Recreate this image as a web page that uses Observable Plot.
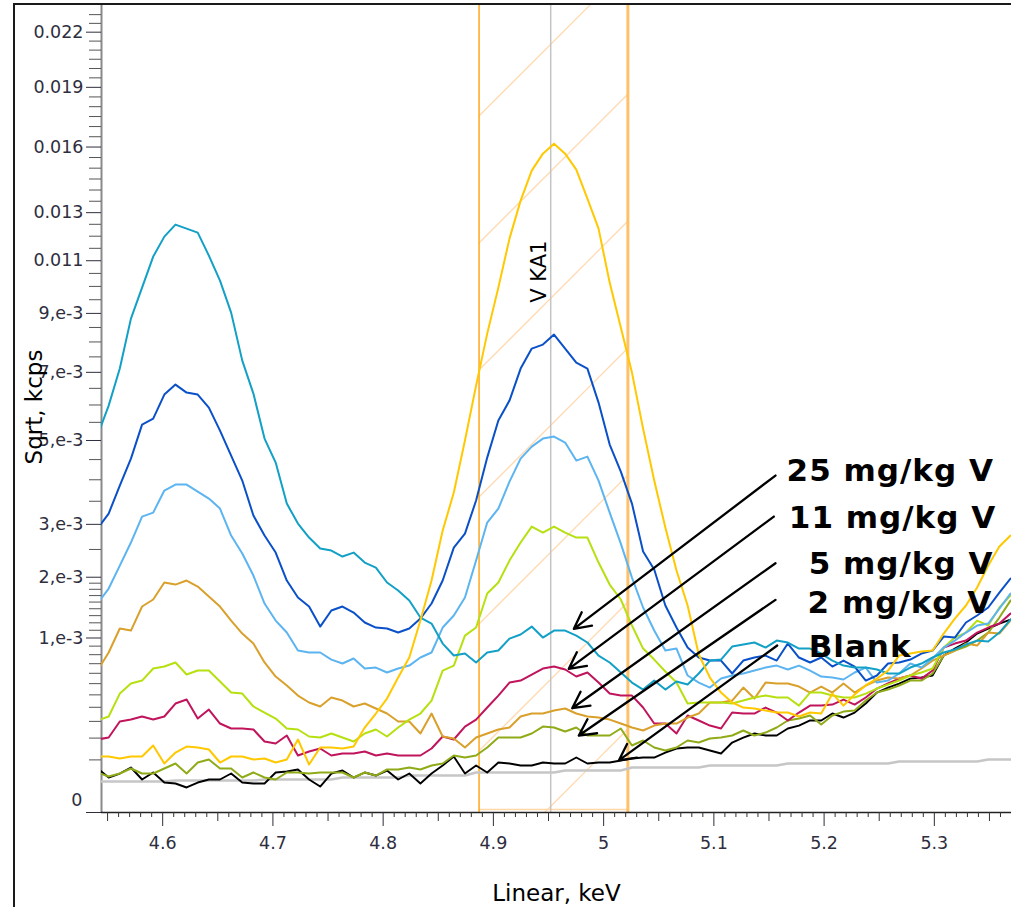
<!DOCTYPE html>
<html>
<head>
<meta charset="utf-8">
<script src="https://cdn.jsdelivr.net/npm/d3@7"></script>
<script src="https://cdn.jsdelivr.net/npm/@observablehq/plot@0.6"></script>
<style>
  html, body { margin: 0; padding: 0; background: #fff; }
  #wrap { position: relative; width: 1011px; height: 907px; overflow: hidden; background: #fff; }
  #chart svg { display: block; }
  #frame { position: absolute; left: 13px; top: 3px; width: 1100px; height: 1000px;
           border-left: 2px solid #1a1a1a; border-top: 2px solid #1a1a1a; pointer-events: none; }
  .annot text { letter-spacing: 1px; }
</style>
</head>
<body>
<div id="wrap"><div id="chart"></div><div id="frame"></div></div>
<script>
// ---------- Channel energies (keV): first channel sits just left of the axis ----------
const channelStart = 4.5409;
const channelStep = 0.0101;
const channelCount = 83;

// ---------- Spectra, values in cps (= 1e-3 kcps), one value per channel ----------
const blank = [0.0699,
  0.0442,0.0549,0.0731,0.0393,0.0578,0.0325,0.0304,0.0226,0.0325,0.0393,
  0.0393,0.0549,0.0325,0.0304,0.0304,0.0578,0.0607,0.0668,0.0393,0.0244,
  0.0549,0.0637,0.0442,0.0578,0.0494,0.0637,0.0393,0.0549,0.0304,0.0549,
  0.0798,0.1133,0.0549,0.0798,0.0578,0.0903,0.0867,0.0798,0.0798,0.0903,
  0.0867,0.0867,0.1092,0.0867,0.0903,0.0903,0.0977,0.1053,0.1092,0.1092,
  0.130,0.1479,0.1526,0.1526,0.1388,0.1257,0.177,0.2031,0.2254,0.2141,
  0.2141,0.255,0.273,0.306,0.306,0.354,0.326,0.361,0.429,0.520,
  0.564,0.601,0.648,0.658,0.678,0.890,0.971,1.044,1.157,1.223,
  1.290,1.345];
const v2 = [0.0578,
  0.0468,0.0549,0.0699,0.0549,0.0549,0.0699,0.0867,0.0549,0.0903,0.1014,
  0.0699,0.0699,0.0442,0.0578,0.0442,0.0393,0.0578,0.0578,0.0549,0.0578,
  0.0578,0.0578,0.0442,0.0578,0.0494,0.0668,0.0668,0.0731,0.0668,0.0798,
  0.0867,0.1173,0.1092,0.1173,0.1526,0.2031,0.2031,0.2031,0.2254,0.267,
  0.261,0.2370,0.261,0.2141,0.2141,0.2141,0.255,0.1621,0.1872,0.1526,
  0.1388,0.1526,0.1872,0.177,0.1978,0.2031,0.2141,0.2428,0.2141,0.231,
  0.261,0.306,0.319,0.340,0.280,0.340,0.368,0.376,0.453,0.520,
  0.546,0.583,0.629,0.629,0.698,0.890,0.948,0.995,1.068,1.170,
  1.373,1.623];
const v5 = [0.728,
  0.925,1.223,1.196,1.533,1.639,1.911,1.877,1.944,1.845,1.685,
  1.533,1.331,1.157,1.031,0.813,0.668,0.583,0.494,0.437,0.406,
  0.478,0.453,0.406,0.429,0.391,0.354,0.299,0.299,0.2254,0.354,
  0.2086,0.1978,0.1526,0.2031,0.2254,0.2488,0.261,0.333,0.354,0.354,
  0.376,0.391,0.354,0.333,0.326,0.312,0.286,0.261,0.243,0.273,
  0.286,0.286,0.326,0.354,0.437,0.437,0.453,0.564,0.469,0.610,
  0.601,0.601,0.573,0.520,0.573,0.520,0.601,0.520,0.583,0.629,
  0.658,0.648,0.678,0.749,0.834,0.890,0.948,1.031,1.007,1.170,
  1.157,1.331];
const v11 = [0.1925,
  0.2031,0.299,0.312,0.333,0.312,0.333,0.429,0.461,0.319,0.383,
  0.286,0.255,0.255,0.2488,0.1821,0.1719,0.2141,0.1173,0.1344,0.1479,
  0.1173,0.1257,0.1257,0.1344,0.1173,0.1257,0.1173,0.1173,0.1173,0.1479,
  0.2086,0.1925,0.267,0.312,0.398,0.494,0.610,0.629,0.688,0.749,
  0.770,0.739,0.668,0.708,0.610,0.511,0.494,0.494,0.398,0.286,
  0.286,0.2254,0.340,0.306,0.273,0.255,0.361,0.354,0.354,0.398,
  0.361,0.306,0.361,0.413,0.413,0.421,0.461,0.421,0.478,0.555,
  0.601,0.648,0.678,0.648,0.728,0.983,1.031,1.068,1.170,1.236,
  1.290,1.430];
const v25 = [5.133,
  5.982,7.120,8.813,9.954,11.165,11.982,12.487,12.317,12.149,11.205,
  10.222,9.029,7.378,6.340,5.052,4.424,3.448,3.016,2.731,2.517,
  2.479,2.367,2.441,2.257,2.168,1.911,1.780,1.623,1.373,1.290,
  1.031,0.890,0.913,0.813,0.925,0.948,1.093,1.144,1.249,1.106,
  1.196,1.196,1.131,1.044,0.890,0.813,0.708,0.610,0.546,0.629,
  0.546,0.620,0.592,0.698,0.834,0.845,0.995,1.019,1.044,0.983,
  1.068,1.044,0.971,0.971,0.913,0.834,0.780,0.759,0.759,0.739,
  0.698,0.698,0.759,0.802,0.868,0.925,0.960,1.019,1.068,1.056,
  1.170,1.345];
const sampleDarkBlue = [2.913,
  3.229,3.862,4.526,5.437,5.606,6.310,6.616,6.371,6.310,5.924,
  5.270,4.603,3.981,3.186,2.771,2.441,1.944,1.669,1.533,1.249,
  1.474,1.533,1.445,1.304,1.236,1.223,1.170,1.223,1.359,1.578,
  1.944,2.536,2.811,3.516,4.551,5.550,6.130,7.120,7.776,7.910,
  8.252,7.776,7.313,7.120,6.071,4.891,4.200,3.448,2.460,2.133,
  1.548,1.236,0.983,0.868,0.834,0.834,0.698,0.834,0.868,0.890,
  0.834,1.031,0.868,0.813,0.868,0.770,0.834,0.770,0.629,0.678,
  0.802,0.813,0.845,0.913,0.948,1.119,1.106,1.304,1.402,1.518,
  1.748,1.978];
const sampleLightBlue = [1.578,
  1.812,2.203,2.633,3.164,3.250,3.745,3.885,3.885,3.721,3.561,
  3.338,2.771,2.423,2.029,1.578,1.331,1.170,0.948,0.925,0.925,
  0.845,0.802,0.857,0.749,0.759,0.708,0.749,0.780,0.868,0.925,
  1.236,1.402,1.669,2.293,3.037,3.338,3.957,4.526,4.838,5.052,
  5.106,4.944,4.475,4.577,3.981,3.250,2.613,1.994,1.518,1.196,
  0.948,0.971,0.678,0.610,0.564,0.648,0.678,0.698,0.728,0.759,
  0.780,0.739,0.780,0.728,0.668,0.658,0.639,0.708,0.759,0.610,
  0.629,0.698,0.802,0.759,0.857,0.983,1.068,1.170,1.263,1.290,
  1.503,1.732];
const sampleGold = [0.1133,
  0.1133,0.1053,0.1133,0.1133,0.1621,0.0867,0.130,0.1573,0.1526,0.1433,
  0.0903,0.1133,0.1133,0.1014,0.1053,0.0903,0.1014,0.1925,0.0832,0.1526,
  0.1526,0.1479,0.1573,0.261,0.354,0.469,0.658,0.868,1.331,1.944,
  2.872,3.698,4.998,6.585,8.286,9.954,11.899,13.527,14.886,15.684,
  16.164,15.684,14.932,13.615,12.317,10.145,8.495,6.992,5.325,3.981,
  2.933,2.115,1.548,0.902,0.658,0.520,0.437,0.398,0.391,0.376,
  0.361,0.361,0.333,0.361,0.354,0.511,0.413,0.503,0.583,0.648,
  0.728,0.890,0.913,0.936,0.948,1.157,1.359,1.548,1.828,2.203,
  2.555,2.771];
const sampleLime = [0.306,
  0.333,0.511,0.601,0.629,0.749,0.770,0.813,0.688,0.728,0.728,
  0.620,0.520,0.511,0.406,0.361,0.319,0.255,0.2488,0.2086,0.2031,
  0.2254,0.2031,0.1821,0.2254,0.2488,0.2086,0.261,0.312,0.354,0.453,
  0.728,0.780,1.131,1.236,1.732,1.911,2.293,2.633,2.954,2.831,
  2.954,2.831,2.731,2.731,2.257,1.877,1.639,1.263,0.971,0.845,
  0.718,0.610,0.429,0.437,0.437,0.437,0.429,0.453,0.478,0.494,
  0.478,0.478,0.413,0.520,0.520,0.494,0.478,0.478,0.511,0.555,
  0.592,0.629,0.678,0.708,0.749,0.983,1.106,1.170,1.331,1.263,
  1.518,1.701];
const background = [0.0347,
  0.0347,0.0347,0.0347,0.0347,0.0347,0.0347,0.0370,0.0370,0.0370,0.0370,
  0.0370,0.0370,0.0370,0.0370,0.0393,0.0393,0.0393,0.0393,0.0393,0.0393,
  0.0393,0.0442,0.0442,0.0442,0.0442,0.0442,0.0442,0.0494,0.0494,0.0494,
  0.0494,0.0494,0.0494,0.0578,0.0578,0.0578,0.0578,0.0578,0.0578,0.0578,
  0.0578,0.0637,0.0637,0.0637,0.0637,0.0637,0.0637,0.0731,0.0731,0.0731,
  0.0731,0.0731,0.0731,0.0731,0.0798,0.0798,0.0798,0.0798,0.0798,0.0798,
  0.0798,0.0867,0.0867,0.0867,0.0867,0.0867,0.0867,0.0867,0.0867,0.0867,
  0.0867,0.0939,0.0939,0.0939,0.0939,0.0939,0.0939,0.0939,0.0939,0.1014,
  0.1014,0.1014];

// ---------- Series styling (drawing order) ----------
const seriesList = [
  {name: "Background", values: background, color: "#c6c6c6", width: 2.6},
  {name: "Blank", values: blank, color: "#000000", width: 1.9},
  {name: "2 mg/kg V", values: v2, color: "#8fab18", width: 2},
  {name: "11 mg/kg V", values: v11, color: "#c0145c", width: 2},
  {name: "5 mg/kg V", values: v5, color: "#d9a02c", width: 2},
  {name: "Sample lime", values: sampleLime, color: "#b6e010", width: 2},
  {name: "Sample light blue", values: sampleLightBlue, color: "#5cb4f0", width: 2},
  {name: "Sample dark blue", values: sampleDarkBlue, color: "#0a50c8", width: 2},
  {name: "25 mg/kg V", values: v25, color: "#12a0c6", width: 2},
  {name: "Sample gold", values: sampleGold, color: "#ffc800", width: 2}
];

// ---------- Element line / region of interest ----------
const lineName = "V KA1";
const lineEnergy = 4.952;
const roiStart = 4.887, roiEnd = 5.022;
const lineLabelValue = 10.57; // cps, vertical position of the label

// ---------- Axis ticks ----------
const xMajor = [4.6, 4.7, 4.8, 4.9, 5.0, 5.1, 5.2, 5.3];
const xMajorLabels = ["4.6", "4.7", "4.8", "4.9", "5", "5.1", "5.2", "5.3"];
const yMajor = [0, 1.1, 2, 3, 5, 7, 9, 11, 13, 16, 19, 22]; // cps
const yMajorLabels = ["", "1,e-3", "2,e-3", "3,e-3", "5,e-3", "7,e-3", "9,e-3", "0.011", "0.013", "0.016", "0.019", "0.022"];
const yZeroLabel = "0";
const yMinor = [0.1,0.2,0.3,0.4,0.5,0.6,0.7,0.8,0.9,1.0,1.2,1.3,1.4,1.5,1.6,1.7,1.8,1.9,
  2.5,3.5,4,4.5,5.5,6,6.5,7.5,8,8.5,9.5,10,10.5,11.5,12,12.5,13.5,14,14.5,15,15.5,
  16.5,17,17.5,18,18.5,19.5,20,20.5,21,21.5,22.5,23];

// ---------- Annotations ----------
const annotLabels = ["25 mg/kg V", "11 mg/kg V", "5 mg/kg V", "2 mg/kg V", "Blank"];
const annotKeV = [5.166, 5.168, 5.186, 5.185, 5.186];
const annotValue = [3.981, 2.933, 2.063, 1.445, 0.879];
const arrowFromKeV = [5.1559, 5.1544, 5.1559, 5.1559, 5.1575];
const arrowFromValue = [4.102, 3.164, 2.245, 1.634, 1.007];
const arrowToKeV = [4.9730, 4.9684, 4.9715, 4.9775, 5.0138];
const arrowToValue = [1.219, 0.746, 0.393, 0.214, 0.098];

const xTitle = "Linear, keV";
const yTitle = "Sqrt, kcps";

// ---------- Build ----------
const energies = d3.range(channelCount).map(i => +(channelStart + i * channelStep).toFixed(4));
const X0 = 4.5445, X1 = 5.370, Y1 = 23.53;
const xMid = d3.range(0, 17).map(k => +(4.55 + k * 0.1).toFixed(2)).filter(v => v <= X1);
const xMinor = d3.range(0, 83).map(k => +(4.55 + k * 0.01).toFixed(2))
  .filter(v => v <= X1 && Math.abs(Math.round(v * 20) - v * 20) > 1e-6);
const xLabelMap = new Map(xMajor.map((v, i) => [v, xMajorLabels[i]]));
const yLabelMap = new Map(yMajor.map((v, i) => [v, yMajorLabels[i]]));
const tickColor = "#2e2e3e";

const marks = [
  Plot.rect([{s: roiStart, e: roiEnd}], {x1: "s", x2: "e", y1: () => 0, y2: () => Y1, fill: "url(#roiHatch)"}),
  Plot.ruleY([0], {x1: roiStart, x2: roiEnd, dy: -3, stroke: "#ffd6a6", strokeWidth: 1.5}),
  Plot.ruleX([roiStart], {stroke: "#ffa81a", strokeWidth: 1.5}),
  Plot.ruleX([roiEnd], {stroke: "#ffc06a", strokeWidth: 3}),
  Plot.ruleX([lineEnergy], {stroke: "#c4c4c4", strokeWidth: 1.5}),
  Plot.text([lineName], {x: lineEnergy, y: lineLabelValue, dx: -5, rotate: -90, textAnchor: "middle",
    lineAnchor: "bottom", fontSize: 21, fill: "#000"}),
  Plot.ruleX([X0], {stroke: "#8a8a8a", strokeWidth: 2}),
  Plot.ruleY([0], {stroke: "#222", strokeWidth: 1.4}),
  Plot.axisX(xMinor, {tickSize: 5, tickFormat: () => "", label: null, stroke: "#333"}),
  Plot.axisX(xMid, {tickSize: 9, tickFormat: () => "", label: null, stroke: "#333"}),
  Plot.axisX(xMajor, {tickSize: 14, tickPadding: 10, tickFormat: d => xLabelMap.get(d), label: null,
    fontSize: 17.5, color: tickColor}),
  Plot.axisY(yMinor, {tickSize: 12, tickFormat: () => "", label: null, stroke: "#555"}),
  Plot.axisY(yMajor, {tickSize: 15, tickPadding: 3, tickFormat: d => yLabelMap.get(d), label: null,
    fontSize: 17.5, color: tickColor}),
  Plot.text([yZeroLabel], {x: X0, y: 0, dx: -19, dy: -12, textAnchor: "end", fontSize: 17.5, fill: tickColor}),
  Plot.text([xTitle], {frameAnchor: "bottom", dy: 88, lineAnchor: "bottom", fontSize: 23, fill: "#000"}),
  Plot.text([yTitle], {frameAnchor: "left", dx: -59.5, dy: -2, rotate: -90, lineAnchor: "bottom",
    textAnchor: "middle", fontSize: 23, fill: "#000"}),
  ...seriesList.map(s => Plot.line(s.values, {x: (d, i) => energies[i], y: d => d, stroke: s.color,
    strokeWidth: s.width, clip: true})),
  Plot.arrow(annotLabels, {x1: (d, i) => arrowFromKeV[i], y1: (d, i) => arrowFromValue[i],
    x2: (d, i) => arrowToKeV[i], y2: (d, i) => arrowToValue[i], stroke: "#000", strokeWidth: 2.3,
    headLength: 12, headAngle: 55}),
  Plot.text(annotLabels, {x: (d, i) => annotKeV[i], y: (d, i) => annotValue[i], text: d => d,
    textAnchor: "start", lineAnchor: "bottom", fontSize: 31, fontWeight: "bold", fill: "#000",
    className: "annot"})
];

const chart = Plot.plot({
  width: 1011, height: 907,
  marginLeft: 101, marginRight: 0, marginTop: 5, marginBottom: 95,
  style: {fontFamily: "DejaVu Sans", background: "#fff", fontSize: "17px"},
  x: {domain: [X0, X1]},
  y: {type: "sqrt", domain: [0, Y1]},
  marks
});

const ns = "http://www.w3.org/2000/svg";
const defs = document.createElementNS(ns, "defs");
defs.innerHTML = '<pattern id="roiHatch" patternUnits="userSpaceOnUse" x="0" y="0" width="127" height="127">' +
  '<path d="M-10,97L97,-10M77,137L137,77" stroke="#ffd9b0" stroke-width="1.3" fill="none"/></pattern>';
chart.insertBefore(defs, chart.firstChild);
document.getElementById("chart").appendChild(chart);
</script>
</body>
</html>
